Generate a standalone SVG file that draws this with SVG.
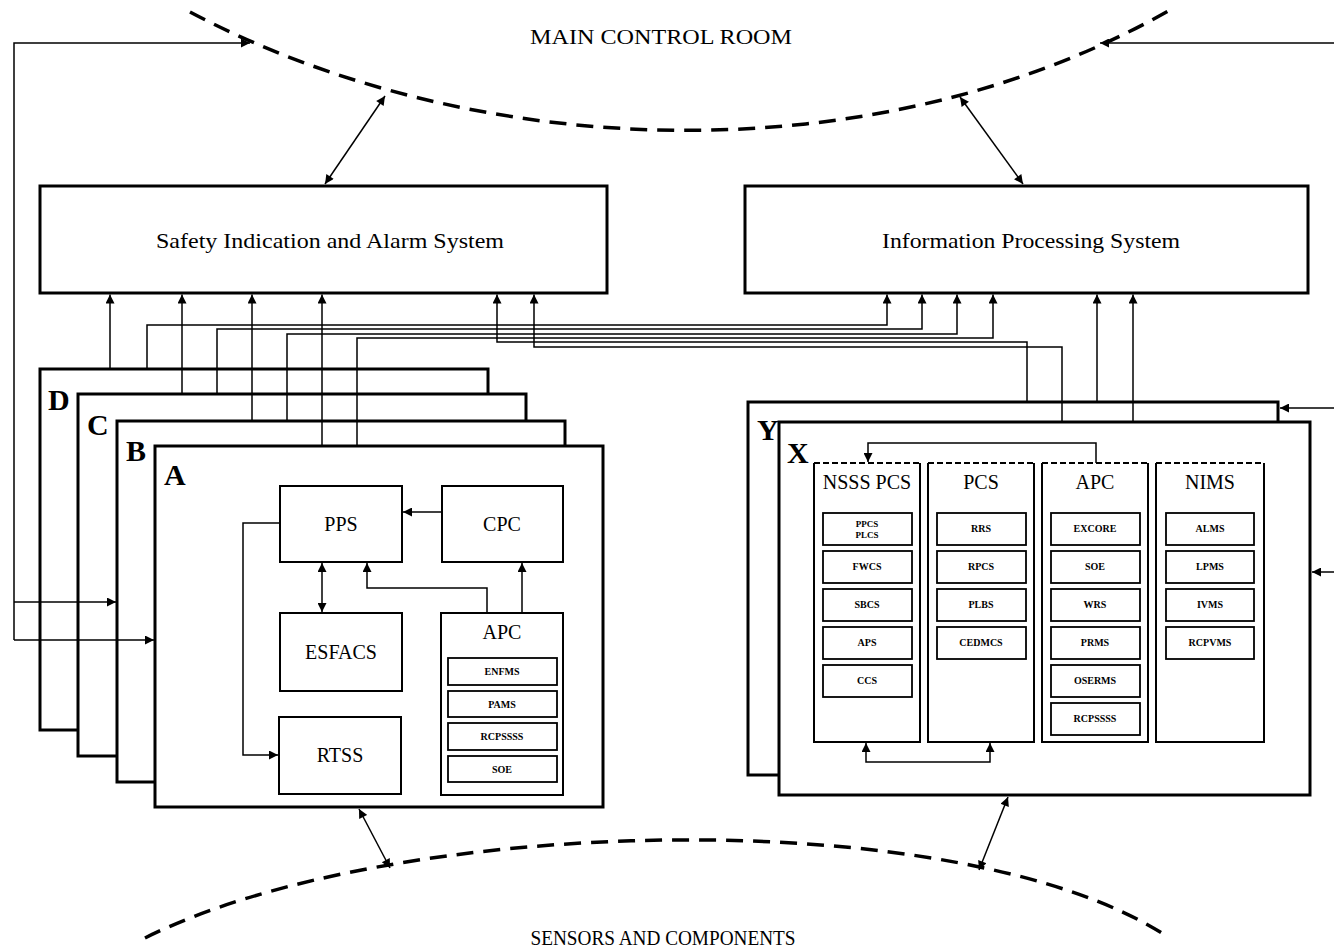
<svg xmlns="http://www.w3.org/2000/svg" width="1334" height="952" viewBox="0 0 1334 952">
<style>
  .bg{fill:#fff}
  .big{fill:#fff;stroke:#000;stroke-width:3}
  .box{fill:#fff;stroke:#000;stroke-width:2}
  .sm{fill:#fff;stroke:#000;stroke-width:1.8}
  .col{fill:none;stroke:#000;stroke-width:2}
  .coltop{fill:none;stroke:#000;stroke-width:2;stroke-dasharray:6 3}
  .ln{fill:none;stroke:#000;stroke-width:1.5}
  .arr{fill:none;stroke:#000;stroke-width:1.5;marker-end:url(#ah)}
  .dbl{fill:none;stroke:#000;stroke-width:1.5;marker-start:url(#ah);marker-end:url(#ah)}
  .curve{fill:none;stroke:#000;stroke-width:3.5;stroke-dasharray:17 10}
  text{font-family:"Liberation Serif","Times New Roman",serif;fill:#000}
  .t20{font-size:20px;text-anchor:middle}
  .t22{font-size:22px;text-anchor:middle}
  .lbl{font-size:30px;font-weight:bold}
  .s10{font-size:10px;font-weight:bold;text-anchor:middle}
</style>
<defs>
  <marker id="ah" viewBox="0 0 10 10" refX="10" refY="5" markerWidth="11" markerHeight="9" markerUnits="userSpaceOnUse" orient="auto-start-reverse">
    <path d="M0,0 L10,5 L0,10 z" fill="#000"/>
  </marker>
</defs>
<rect class="bg" x="0" y="0" width="1334" height="952"/>

<g id="main-control-room">
  <path class="curve" d="M190,12 C470,160 870,180 1170,10"/>
  <text class="t22" x="661" y="44" textLength="262" lengthAdjust="spacingAndGlyphs">MAIN CONTROL ROOM</text>
</g>
<g id="sensors-components">
  <path class="curve" d="M145,938 C390,815 960,800 1168,937"/>
  <text class="t20" x="663" y="945" textLength="265" lengthAdjust="spacingAndGlyphs">SENSORS AND COMPONENTS</text>
</g>

<g id="sias">
  <rect class="big" x="40" y="186" width="567" height="107"/>
  <text class="t22" x="330" y="248" textLength="348" lengthAdjust="spacingAndGlyphs">Safety Indication and Alarm System</text>
</g>
<g id="ips">
  <rect class="big" x="745" y="186" width="563" height="107"/>
  <text class="t22" x="1031" y="248" textLength="298" lengthAdjust="spacingAndGlyphs">Information Processing System</text>
</g>

<g id="channel-D">
  <rect class="big" x="40" y="369" width="448" height="361"/>
  <text class="lbl" x="48" y="410">D</text>
</g>
<g id="channel-C">
  <rect class="big" x="78" y="394" width="448" height="362"/>
  <text class="lbl" x="87" y="435">C</text>
</g>
<g id="channel-B">
  <rect class="big" x="117" y="421" width="448" height="361"/>
  <text class="lbl" x="126" y="461">B</text>
</g>
<g id="channel-A">
  <rect class="big" x="155" y="446" width="448" height="361"/>
  <text class="lbl" x="164" y="485">A</text>
  <g id="pps"><rect class="box" x="280" y="486" width="122" height="76"/><text class="t20" x="341" y="531">PPS</text></g>
  <g id="cpc"><rect class="box" x="442" y="486" width="121" height="76"/><text class="t20" x="502" y="531">CPC</text></g>
  <g id="esfacs"><rect class="box" x="280" y="613" width="122" height="78"/><text class="t20" x="341" y="659">ESFACS</text></g>
  <g id="rtss"><rect class="box" x="279" y="717" width="122" height="77"/><text class="t20" x="340" y="762">RTSS</text></g>
  <g id="apc-a">
    <rect class="box" x="441" y="613" width="122" height="182"/>
    <text class="t20" x="502" y="639">APC</text>
    <rect class="sm" x="448" y="658" width="109" height="27"/><text class="s10" x="502" y="675">ENFMS</text>
    <rect class="sm" x="448" y="691" width="109" height="26"/><text class="s10" x="502" y="708">PAMS</text>
    <rect class="sm" x="448" y="723" width="109" height="27"/><text class="s10" x="502" y="740">RCPSSSS</text>
    <rect class="sm" x="448" y="756" width="109" height="26"/><text class="s10" x="502" y="773">SOE</text>
  </g>
</g>

<g id="channel-Y">
  <rect class="big" x="748" y="402" width="530" height="373"/>
  <text class="lbl" x="757" y="440">Y</text>
</g>
<g id="channel-X">
  <rect class="big" x="779" y="422" width="531" height="373"/>
  <text class="lbl" x="787" y="463">X</text>
  <g id="nsss-pcs">
    <path class="col" d="M814,463 V742 H920 V463"/><path class="coltop" d="M814,463 H920"/>
    <text class="t20" x="867" y="489">NSSS PCS</text>
    <rect class="sm" x="823" y="513" width="89" height="32"/><text class="s10" x="867" y="527" style="font-size:9px">PPCS</text><text class="s10" x="867" y="538" style="font-size:9px">PLCS</text>
    <rect class="sm" x="823" y="551" width="89" height="32"/><text class="s10" x="867" y="570">FWCS</text>
    <rect class="sm" x="823" y="589" width="89" height="32"/><text class="s10" x="867" y="608">SBCS</text>
    <rect class="sm" x="823" y="627" width="89" height="32"/><text class="s10" x="867" y="646">APS</text>
    <rect class="sm" x="823" y="665" width="89" height="32"/><text class="s10" x="867" y="684">CCS</text>
  </g>
  <g id="pcs">
    <path class="col" d="M928,463 V742 H1034 V463"/><path class="coltop" d="M928,463 H1034"/>
    <text class="t20" x="981" y="489">PCS</text>
    <rect class="sm" x="937" y="513" width="89" height="32"/><text class="s10" x="981" y="532">RRS</text>
    <rect class="sm" x="937" y="551" width="89" height="32"/><text class="s10" x="981" y="570">RPCS</text>
    <rect class="sm" x="937" y="589" width="89" height="32"/><text class="s10" x="981" y="608">PLBS</text>
    <rect class="sm" x="937" y="627" width="89" height="32"/><text class="s10" x="981" y="646">CEDMCS</text>
  </g>
  <g id="apc-x">
    <path class="col" d="M1042,463 V742 H1148 V463"/><path class="coltop" d="M1042,463 H1148"/>
    <text class="t20" x="1095" y="489">APC</text>
    <rect class="sm" x="1051" y="513" width="89" height="32"/><text class="s10" x="1095" y="532">EXCORE</text>
    <rect class="sm" x="1051" y="551" width="89" height="32"/><text class="s10" x="1095" y="570">SOE</text>
    <rect class="sm" x="1051" y="589" width="89" height="32"/><text class="s10" x="1095" y="608">WRS</text>
    <rect class="sm" x="1051" y="627" width="89" height="32"/><text class="s10" x="1095" y="646">PRMS</text>
    <rect class="sm" x="1051" y="665" width="89" height="32"/><text class="s10" x="1095" y="684">OSERMS</text>
    <rect class="sm" x="1051" y="703" width="89" height="32"/><text class="s10" x="1095" y="722">RCPSSSS</text>
  </g>
  <g id="nims">
    <path class="col" d="M1156,463 V742 H1264 V463"/><path class="coltop" d="M1156,463 H1264"/>
    <text class="t20" x="1210" y="489">NIMS</text>
    <rect class="sm" x="1166" y="513" width="88" height="32"/><text class="s10" x="1210" y="532">ALMS</text>
    <rect class="sm" x="1166" y="551" width="88" height="32"/><text class="s10" x="1210" y="570">LPMS</text>
    <rect class="sm" x="1166" y="589" width="88" height="32"/><text class="s10" x="1210" y="608">IVMS</text>
    <rect class="sm" x="1166" y="627" width="88" height="32"/><text class="s10" x="1210" y="646">RCPVMS</text>
  </g>
</g>

<g id="connectors">
  <path class="dbl" d="M385,96 L325,184"/>
  <path class="dbl" d="M960,97 L1023,184"/>
  <path class="dbl" d="M359,809 L390,868"/>
  <path class="dbl" d="M1008,797 L979,870"/>
  <path class="arr" d="M14,640 V43 H250"/>
  <path class="arr" d="M14,602 H116"/>
  <path class="arr" d="M14,640 H154"/>
  <path class="arr" d="M1334,43 H1100"/>
  <path class="arr" d="M1334,408 H1280"/>
  <path class="arr" d="M1334,572 H1312"/>
  <path class="arr" d="M110,369 V294.5"/>
  <path class="arr" d="M182,394 V294.5"/>
  <path class="arr" d="M252,421 V294.5"/>
  <path class="arr" d="M322,446 V294.5"/>
  <path class="arr" d="M147,369 V325 H887 V294.5"/>
  <path class="arr" d="M217,394 V329 H922 V294.5"/>
  <path class="arr" d="M287,421 V334 H957 V294.5"/>
  <path class="arr" d="M357,446 V338 H993 V294.5"/>
  <path class="arr" d="M1027,402 V342 H497 V294.5"/>
  <path class="arr" d="M1062,422 V347 H534 V294.5"/>
  <path class="arr" d="M1097,402 V294.5"/>
  <path class="arr" d="M1133,422 V294.5"/>
  <path class="arr" d="M442,512 H403"/>
  <path class="dbl" d="M322,563 V612"/>
  <path class="arr" d="M487,613 V588 H367 V563"/>
  <path class="arr" d="M522,613 V563"/>
  <path class="arr" d="M280,523 H243 V755 H278"/>
  <path class="arr" d="M1096,463 V443 H868 V462"/>
  <path class="dbl" d="M866,743 V762 H990 V743"/>
</g>
</svg>
